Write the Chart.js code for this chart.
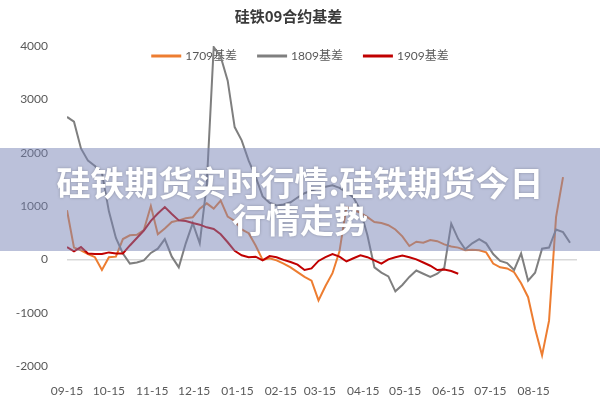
<!DOCTYPE html>
<html>
<head>
<meta charset="utf-8">
<script src="https://cdn.jsdelivr.net/npm/chart.js@4/dist/chart.umd.min.js"></script>
<style>
    body { margin: 0; background: #ffffff; }
    #wrap { width: 600px; height: 400px; position: relative; }
</style>
</head>
<body>
<div id="wrap"><canvas id="basisChart"></canvas></div>
<script>
// days counted from 09-15, one sample every 5 days
const days = [
    0, 5, 10, 15, 20, 25, 30, 35, 40, 45, 50, 55, 60, 65, 70, 75, 80, 85, 90, 95,
    100, 105, 110, 115, 120, 125, 130, 135, 140, 145, 150, 155, 160, 165, 170, 175, 180, 185, 190, 195,
    200, 205, 210, 215, 220, 225, 230, 235, 240, 245, 250, 255, 260, 265, 270, 275, 280, 285, 290, 295,
    300, 305, 310, 315, 320, 325, 330, 335, 340, 345, 350, 355, 360,
];

const basis1709 = [
    920, 220, 170, 100, 40, -200, 40, 50, 380, 450, 460, 550, 1000, 470, 580, 700, 730, 770, 790, 950,
    1050, 950, 1100, 800, 720, 560, 490, 260, -10, 20, -20, -80, -150, -240, -330, -400, -770, -500, -260, 150,
    980, 930, 870, 790, 700, 680, 640, 560, 430, 250, 330, 310, 360, 340, 280, 240, 220, 170, 180, 170,
    130, -80, -150, -170, -240, -450, -710, -1300, -1800, -1150, 790, 1540, null,
];

const basis1809 = [
    2670, 2580, 2080, 1850, 1750, 1620, 900, 400, 110, -80, -60, -20, 120, 200, 380, 50, -150, 300, 680, 300,
    1400, 3980, 3800, 3350, 2480, 2230, 1850, 1550, 1180, 1060, 1010, 1030, 1070, 1160, 1240, 1290, 1330, 1360, 1390, 1340,
    1260, 1160, 920, 450, -150, -250, -320, -600, -480, -330, -210, -270, -330, -270, -160, 670, 380, 190, 300, 380,
    300, 100, -30, -70, -200, 110, -400, -250, 200, 220, 560, 510, 310,
];

const basis1909 = [
    230, 150, 230, 110, 100, 100, 130, 110, 110, 260, 400, 540, 720, 860, 980, 850, 730, 720, 680, 650,
    600, 570, 470, 320, 160, 75, 40, 50, -20, 60, 40, -10, -50, -100, -200, -170, -30, 40, 100, 50,
    -40, 20, 75, 40, -20, -80, 0, 40, 70, 40, 0, -60, -120, -200, -190, -220, -270, null, null, null,
    null, null, null, null, null, null, null, null, null, null, null, null, null,
];

const tickDays = [0, 30, 61, 91, 122, 153, 181, 212, 242, 273, 303, 334];
const monthLabels = ['09-15', '10-15', '11-15', '12-15', '01-15', '02-15', '03-15', '04-15', '05-15', '06-15', '07-15', '08-15'];

const cjk = '"Noto Sans CJK SC", sans-serif';
const latin = 'Lato, "Noto Sans CJK SC", sans-serif';

// legend drawn inside the plot, under the lines
const insideLegend = {
    id: 'insideLegend',
    beforeDatasetsDraw(chart) {
        const c = chart.ctx;
        const sets = chart.data.datasets;
        const lineW = 30, gap = 4, spacing = 20;
        c.save();
        c.font = '12px ' + latin;
        const widths = sets.map(ds => lineW + gap + c.measureText(ds.label).width);
        const total = widths.reduce((a, b) => a + b, 0) + spacing * (sets.length - 1);
        let x = 300 - total / 2;
        const y = 56;
        sets.forEach((ds, i) => {
            c.strokeStyle = ds.borderColor;
            c.lineWidth = 3;
            c.beginPath();
            c.moveTo(x, y);
            c.lineTo(x + lineW, y);
            c.stroke();
            c.fillStyle = '#595959';
            c.textBaseline = 'middle';
            c.textAlign = 'left';
            c.fillText(ds.label, x + lineW + gap, y);
            x += widths[i] + spacing;
        });
        c.restore();
    },
};

// the translucent headline band over the picture
const banner = {
    id: 'banner',
    afterDraw(chart) {
        const c = chart.ctx;
        c.save();
        c.fillStyle = 'rgba(120, 132, 182, 0.5)';
        c.fillRect(0, 148, 600, 103);
        c.font = 'bold 34px ' + cjk;
        c.fillStyle = '#ffffff';
        c.textAlign = 'center';
        c.textBaseline = 'middle';
        c.shadowColor = 'rgba(0, 0, 0, 0.25)';
        c.shadowBlur = 3;
        c.fillText('硅铁期货实时行情:硅铁期货今日', 300, 183);
        c.fillText('行情走势', 300, 220);
        c.restore();
    },
};

new Chart(document.getElementById('basisChart'), {
    type: 'line',
    data: {
        labels: days,
        datasets: [
            {
                label: '1709基差',
                data: basis1709,
                borderColor: '#ed7d31',
                borderWidth: 2,
                pointRadius: 0,
                order: 3,
            },
            {
                label: '1809基差',
                data: basis1809,
                borderColor: '#7f7f7f',
                borderWidth: 2,
                pointRadius: 0,
                order: 2,
            },
            {
                label: '1909基差',
                data: basis1909,
                borderColor: '#c00000',
                borderWidth: 2,
                pointRadius: 0,
                order: 1,
            },
        ],
    },
    options: {
        responsive: true,
        maintainAspectRatio: false,
        animation: false,
        layout: { padding: { left: 0, right: 23, top: 0, bottom: 0 } },
        plugins: {
            legend: { display: false },
            tooltip: { enabled: false },
            title: {
                display: true,
                text: '硅铁09合约基差',
                color: '#3a3a3a',
                font: { size: 15, weight: 'bold', family: cjk },
                padding: { top: 7, bottom: 21 },
            },
        },
        scales: {
            x: {
                type: 'linear',
                min: 0,
                max: 365,
                afterBuildTicks: scale => {
                    scale.ticks = tickDays.map(v => ({ value: v }));
                },
                afterFit: scale => { scale.height = 34; },
                ticks: {
                    autoSkip: false,
                    maxRotation: 0,
                    padding: 10,
                    color: '#595959',
                    font: { size: 12, family: latin },
                    callback: (v, i) => monthLabels[i],
                },
                grid: { display: false },
                border: { display: false },
            },
            y: {
                min: -2000,
                max: 4000,
                afterFit: scale => { scale.width = 67; },
                ticks: {
                    stepSize: 1000,
                    padding: 19,
                    color: '#595959',
                    font: { size: 12, family: latin },
                    callback: v => String(v),
                },
                grid: {
                    drawTicks: false,
                    lineWidth: 1.5,
                    color: ctx => (ctx.tick && ctx.tick.value === 0 ? '#d9d9d9' : 'transparent'),
                },
                border: { display: false },
            },
        },
    },
    plugins: [insideLegend, banner],
});
</script>
</body>
</html>
